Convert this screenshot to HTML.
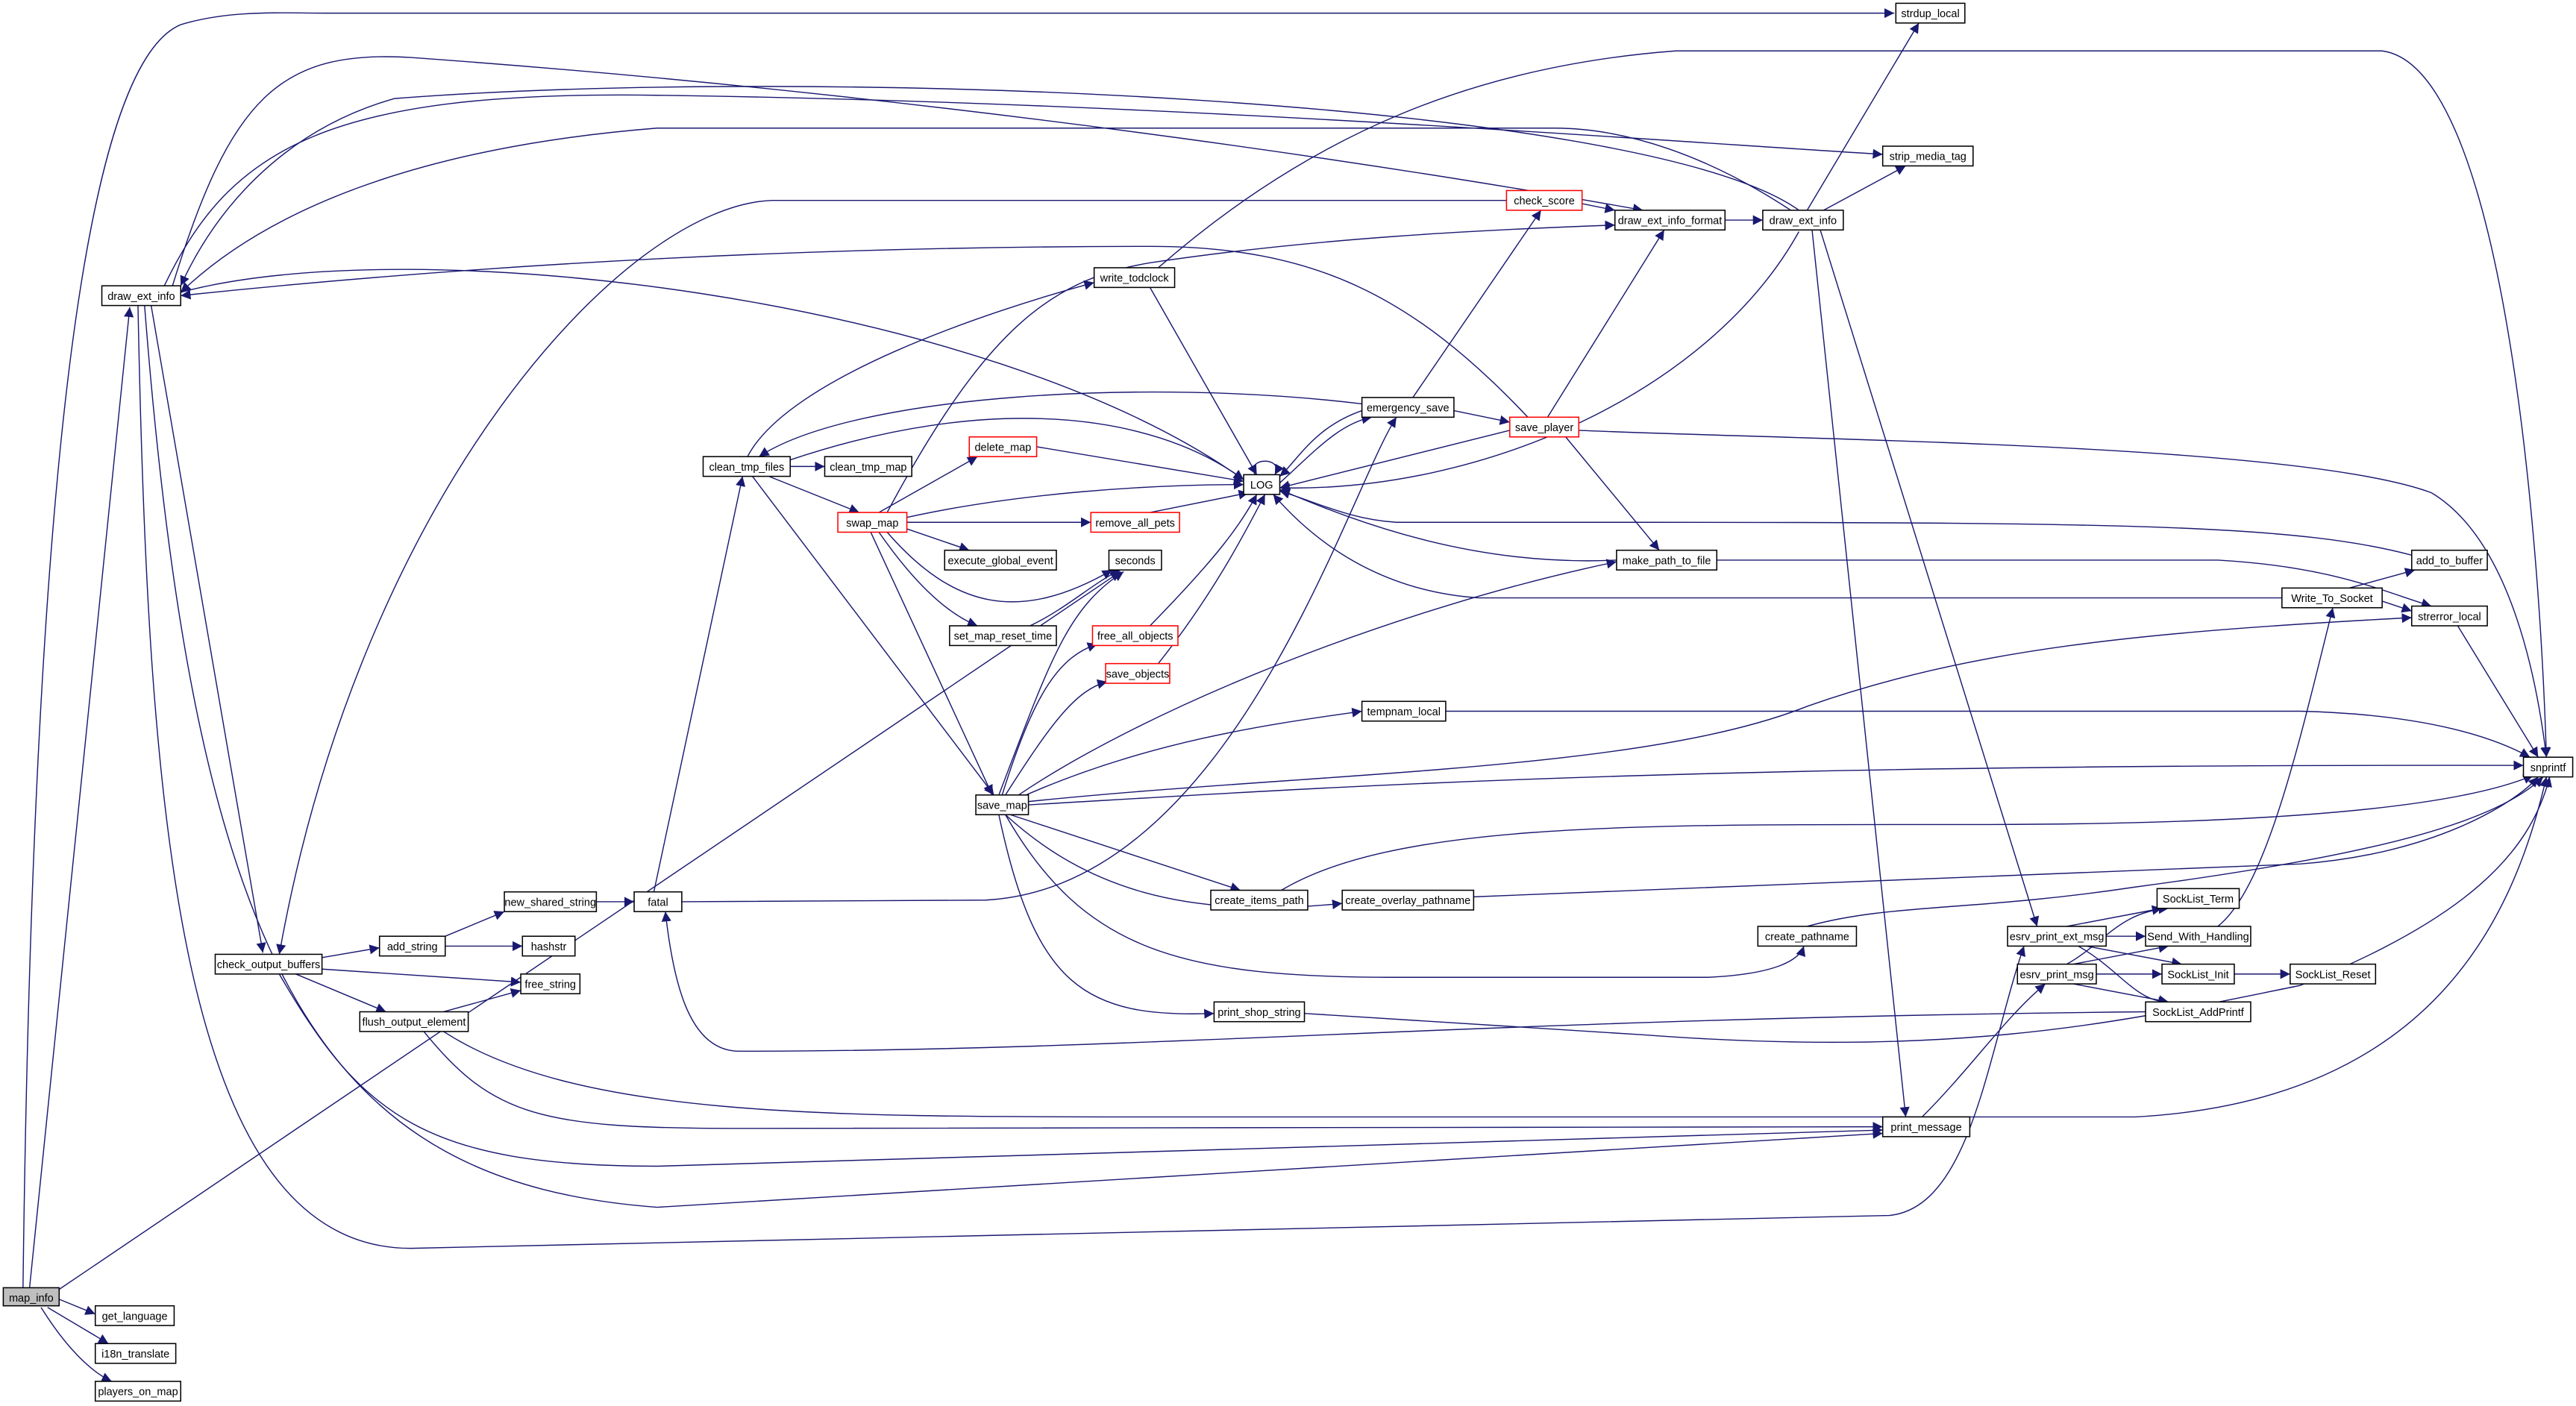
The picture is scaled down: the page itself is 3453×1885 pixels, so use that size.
<!DOCTYPE html>
<html><head><meta charset="utf-8"><style>html,body{margin:0;padding:0;background:#fff}svg{display:block}</style></head><body>
<svg width="3453" height="1885" viewBox="0 0 1568 856" preserveAspectRatio="none" xmlns="http://www.w3.org/2000/svg">
<defs><marker id="a" markerUnits="userSpaceOnUse" markerWidth="7" markerHeight="6" refX="6" refY="3" orient="auto"><path d="M0,0 L6,3 L0,6 Z" fill="#191970"/></marker></defs>
<g fill="none" stroke="#191970" stroke-width="0.65" marker-end="url(#a)">
<path d="M18,784 L79,187"/>
<path d="M14,784 C20,300 50,40 110,15 C140,6 170,8 200,8 L1153,8"/>
<path d="M36,785 L682,348"/>
<path d="M36,791 L58,800"/>
<path d="M29,796 L66,818"/>
<path d="M25,796 C40,820 55,835 68,841"/>
<path d="M92,186 L160,580"/>
<path d="M84,186 C90,500 110,760 250,760 L1150,740 C1200,735 1210,640 1232,576"/>
<path d="M88,186 C120,600 200,720 400,735 L1146,690"/>
<path d="M170,593 C220,680 260,710 400,710 L1146,688"/>
<path d="M258,628 C300,680 330,687 450,687 L1146,686"/>
<path d="M270,628 C350,680 500,680 700,680 L1300,680 C1480,670 1530,560 1550,473"/>
<path d="M196,583 L231,577"/>
<path d="M196,590 L317,598"/>
<path d="M180,593 L235,616"/>
<path d="M917,122 L470,122 C380,125 220,300 170,581"/>
<path d="M1095,128 C1000,60 500,40 240,60 C170,80 130,130 110,174"/>
<path d="M100,174 C140,90 200,55 400,58 C700,62 1000,85 1146,94"/>
<path d="M105,174 C140,60 170,30 250,35 C600,60 900,110 1000,128"/>
<path d="M1090,128 C1040,95 990,78 946,78 L400,78 C250,90 160,130 110,178"/>
<path d="M110,178 C250,140 600,180 757,292"/>
<path d="M930,254 C860,180 800,150 700,150 C500,150 300,160 110,180"/>
<path d="M271,570 L307,555"/>
<path d="M271,576 L318,576"/>
<path d="M270,616 L317,603"/>
<path d="M363,549 L386,549"/>
<path d="M398,543 L452,290"/>
<path d="M415,549 L600,548 C750,540 820,300 850,254"/>
<path d="M1306,616 C900,620 700,640 450,640 C420,640 410,600 405,555"/>
<path d="M481,284 L502,284"/>
<path d="M468,290 L523,312"/>
<path d="M458,290 L605,484"/>
<path d="M481,280 C600,240 700,250 757,292"/>
<path d="M830,246 C700,230 520,240 462,278"/>
<path d="M455,278 C480,230 600,190 666,172"/>
<path d="M700,175 L765,289"/>
<path d="M705,163 C800,80 900,40 1020,31 L1450,31 C1520,40 1545,300 1550,461"/>
<path d="M535,312 L595,278"/>
<path d="M552,315 C620,300 700,295 757,295"/>
<path d="M552,318 L664,318"/>
<path d="M552,322 L590,335"/>
<path d="M540,324 C580,370 620,380 677,347"/>
<path d="M535,324 C560,360 580,375 595,381"/>
<path d="M530,324 L604,484"/>
<path d="M540,312 C600,200 640,170 700,160 C800,145 900,140 983,137"/>
<path d="M631,272 L757,293"/>
<path d="M700,312 L760,300"/>
<path d="M627,381 C650,370 665,355 682,347"/>
<path d="M700,381 C740,340 755,320 765,301"/>
<path d="M705,404 C740,360 760,320 770,301"/>
<path d="M610,484 C630,420 645,400 668,392"/>
<path d="M612,484 C640,440 655,420 674,415"/>
<path d="M608,484 C640,400 650,370 684,348"/>
<path d="M620,484 C700,430 850,370 984,342"/>
<path d="M620,486 C700,450 780,440 829,433"/>
<path d="M626,488 C800,470 1000,470 1100,430 C1200,395 1300,385 1468,376"/>
<path d="M626,490 C800,480 1000,465 1536,466"/>
<path d="M880,433 L1400,433 C1480,435 1520,450 1540,461"/>
<path d="M615,496 L755,542"/>
<path d="M612,496 C660,540 720,560 817,550"/>
<path d="M612,496 C660,580 720,595 850,595 L1040,595 C1080,593 1095,585 1098,576"/>
<path d="M608,496 C630,600 660,620 739,617"/>
<path d="M780,542 C850,500 1000,502 1200,502 C1400,502 1500,490 1542,472"/>
<path d="M897,546 L1400,526 C1480,520 1530,490 1545,473"/>
<path d="M1100,564 C1150,550 1200,555 1300,540 C1450,520 1520,500 1548,473"/>
<path d="M794,617 L1000,630 C1200,645 1300,620 1400,600 C1500,560 1540,520 1552,473"/>
<path d="M1170,680 C1200,650 1220,620 1245,599"/>
<path d="M1103,140 L1160,680"/>
<path d="M1108,140 L1240,564"/>
<path d="M1100,128 L1168,14"/>
<path d="M1110,128 L1160,101"/>
<path d="M1095,141 C1040,240 900,300 779,297"/>
<path d="M1050,134 L1073,134"/>
<path d="M963,124 L983,128"/>
<path d="M860,242 L938,128"/>
<path d="M885,250 L919,257"/>
<path d="M829,250 C800,260 790,280 779,290"/>
<path d="M779,294 C800,275 815,258 835,254"/>
<path d="M942,254 L1013,140"/>
<path d="M919,262 L779,297"/>
<path d="M953,266 L1010,335"/>
<path d="M961,262 C1100,268 1400,270 1480,300 C1530,330 1545,420 1550,461"/>
<path d="M984,341 C900,345 830,320 779,298"/>
<path d="M1389,364 L900,364 C840,360 800,330 775,301"/>
<path d="M1468,338 C1400,320 1300,318 1000,318 L850,318 C820,316 800,305 779,299"/>
<path d="M1045,341 L1350,341 C1420,345 1450,360 1480,369"/>
<path d="M1430,358 L1470,347"/>
<path d="M1450,366 L1468,372"/>
<path d="M1496,381 L1545,461"/>
<path d="M1350,564 C1380,540 1400,450 1420,370"/>
<path d="M1258,564 L1316,553"/>
<path d="M1282,570 L1306,570"/>
<path d="M1270,576 L1328,587"/>
<path d="M1265,576 C1290,590 1300,610 1320,610"/>
<path d="M1258,587 C1280,575 1290,555 1320,553"/>
<path d="M1262,587 L1320,576"/>
<path d="M1276,593 L1316,593"/>
<path d="M1262,599 L1320,610"/>
<path d="M1360,593 L1394,593"/>
<path d="M764,289 C758,278 782,278 776,289"/>
</g>
<g font-family="Liberation Sans, sans-serif" font-size="6.6" text-anchor="middle" stroke-width="0.7">
<g fill="#fff" stroke="#000">
<rect x="2" y="784" width="34" height="11" fill="#bfbfbf"/>
<rect x="58" y="795" width="48" height="12"/>
<rect x="58" y="818" width="49" height="12"/>
<rect x="58" y="841" width="52" height="12"/>
<rect x="1154" y="2" width="42" height="12"/>
<rect x="1146" y="89" width="55" height="12"/>
<rect x="983" y="128" width="67" height="12"/>
<rect x="1073" y="128" width="49" height="12"/>
<rect x="917" y="116" width="46" height="12" stroke="#f00"/>
<rect x="62" y="174" width="48" height="12"/>
<rect x="666" y="163" width="49" height="12"/>
<rect x="829" y="242" width="56" height="12"/>
<rect x="919" y="254" width="42" height="12" stroke="#f00"/>
<rect x="428" y="278" width="53" height="12"/>
<rect x="502" y="278" width="53" height="12"/>
<rect x="590" y="266" width="41" height="12" stroke="#f00"/>
<rect x="757" y="289" width="22" height="12"/>
<rect x="510" y="312" width="42" height="12" stroke="#f00"/>
<rect x="664" y="312" width="54" height="12" stroke="#f00"/>
<rect x="575" y="335" width="68" height="12"/>
<rect x="675" y="335" width="32" height="12"/>
<rect x="578" y="381" width="65" height="12"/>
<rect x="665" y="381" width="52" height="12" stroke="#f00"/>
<rect x="673" y="404" width="39" height="12" stroke="#f00"/>
<rect x="984" y="335" width="61" height="12"/>
<rect x="1468" y="335" width="46" height="12"/>
<rect x="1389" y="358" width="61" height="12"/>
<rect x="1468" y="369" width="46" height="12"/>
<rect x="829" y="427" width="51" height="12"/>
<rect x="1536" y="461" width="30" height="12"/>
<rect x="594" y="484" width="32" height="12"/>
<rect x="386" y="543" width="29" height="12"/>
<rect x="307" y="543" width="56" height="12"/>
<rect x="737" y="542" width="59" height="12"/>
<rect x="817" y="542" width="80" height="12"/>
<rect x="131" y="581" width="65" height="12"/>
<rect x="231" y="570" width="40" height="12"/>
<rect x="318" y="570" width="32" height="12"/>
<rect x="317" y="593" width="36" height="12"/>
<rect x="219" y="616" width="66" height="12"/>
<rect x="1070" y="564" width="60" height="12"/>
<rect x="1222" y="564" width="60" height="12"/>
<rect x="1228" y="587" width="48" height="12"/>
<rect x="1313" y="541" width="50" height="12"/>
<rect x="1306" y="564" width="64" height="12"/>
<rect x="1316" y="587" width="44" height="12"/>
<rect x="1394" y="587" width="52" height="12"/>
<rect x="1306" y="610" width="64" height="12"/>
<rect x="739" y="610" width="55" height="12"/>
<rect x="1146" y="680" width="53" height="12"/>
</g>
<g fill="#000">
<text x="19" y="792.5">map_info</text>
<text x="82" y="803.5">get_language</text>
<text x="82.5" y="826.5">i18n_translate</text>
<text x="84" y="849.5">players_on_map</text>
<text x="1175" y="10.5">strdup_local</text>
<text x="1173.5" y="97.5">strip_media_tag</text>
<text x="1016.5" y="136.5">draw_ext_info_format</text>
<text x="1097.5" y="136.5">draw_ext_info</text>
<text x="940" y="124.5">check_score</text>
<text x="86" y="182.5">draw_ext_info</text>
<text x="690.5" y="171.5">write_todclock</text>
<text x="857" y="250.5">emergency_save</text>
<text x="940" y="262.5">save_player</text>
<text x="454.5" y="286.5">clean_tmp_files</text>
<text x="528.5" y="286.5">clean_tmp_map</text>
<text x="610.5" y="274.5">delete_map</text>
<text x="768" y="297.5">LOG</text>
<text x="531" y="320.5">swap_map</text>
<text x="691" y="320.5">remove_all_pets</text>
<text x="609" y="343.5">execute_global_event</text>
<text x="691" y="343.5">seconds</text>
<text x="610.5" y="389.5">set_map_reset_time</text>
<text x="691" y="389.5">free_all_objects</text>
<text x="692.5" y="412.5">save_objects</text>
<text x="1014.5" y="343.5">make_path_to_file</text>
<text x="1491" y="343.5">add_to_buffer</text>
<text x="1419.5" y="366.5">Write_To_Socket</text>
<text x="1491" y="377.5">strerror_local</text>
<text x="854.5" y="435.5">tempnam_local</text>
<text x="1551" y="469.5">snprintf</text>
<text x="610" y="492.5">save_map</text>
<text x="400.5" y="551.5">fatal</text>
<text x="335" y="551.5">new_shared_string</text>
<text x="766.5" y="550.5">create_items_path</text>
<text x="857" y="550.5">create_overlay_pathname</text>
<text x="163.5" y="589.5">check_output_buffers</text>
<text x="251" y="578.5">add_string</text>
<text x="334" y="578.5">hashstr</text>
<text x="335" y="601.5">free_string</text>
<text x="252" y="624.5">flush_output_element</text>
<text x="1100" y="572.5">create_pathname</text>
<text x="1252" y="572.5">esrv_print_ext_msg</text>
<text x="1252" y="595.5">esrv_print_msg</text>
<text x="1338" y="549.5">SockList_Term</text>
<text x="1338" y="572.5">Send_With_Handling</text>
<text x="1338" y="595.5">SockList_Init</text>
<text x="1420" y="595.5">SockList_Reset</text>
<text x="1338" y="618.5">SockList_AddPrintf</text>
<text x="766.5" y="618.5">print_shop_string</text>
<text x="1172.5" y="688.5">print_message</text>
</g>
</g>
</svg>
</body></html>
